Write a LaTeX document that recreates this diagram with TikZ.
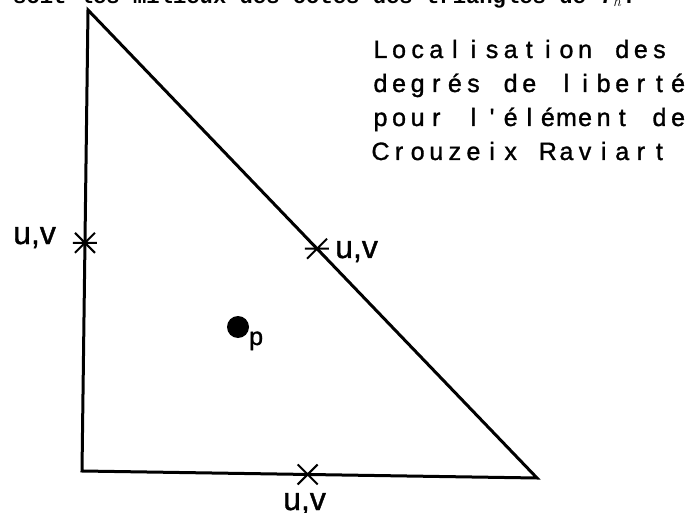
\documentclass[tikz,border=0pt]{standalone}
\usepackage{fontspec}
\usetikzlibrary{calc}
\newfontfamily\plotfont[FakeBold=1.2]{Liberation Sans}
\newfontfamily\pagemono{Liberation Mono}
\ExplSyntaxOn
\NewDocumentCommand\monocells{m}{\tl_map_inline:nn{#1}{\makebox[18.6pt]{##1}}}
\ExplSyntaxOff
\tikzset{
  x=1pt, y=-1pt,
  edge/.style={line width=3pt, line join=miter},
  lbl/.style={inner sep=0pt, anchor=base west, font=\plotfont\fontsize{32}{32}\selectfont},
  txt/.style={inner sep=0pt, anchor=base west, font=\plotfont\fontsize{25}{25}\selectfont},
  dof/.pic={\draw[line width=2pt] (-10,-10) -- (10,10) (-10,10) -- (10,-10) (-12,0) -- (12,0);}
}
\begin{document}
\begin{tikzpicture}
\useasboundingbox (0,0) rectangle (696,513);
\begin{scope}
\clip (0,0) rectangle (696,513);
\node[inner sep=0pt, anchor=base west, font=\pagemono\bfseries\fontsize{22.2}{22.2}\selectfont] (head) at (13,3.5) {soit les milieux des côtés des triangles de \textit{T}$_h$.};
\end{scope}
% triangle
\coordinate (A) at (88,10);
\coordinate (B) at (82,471);
\coordinate (C) at (537,478);
\draw[edge] (A) -- (B) -- (C) -- cycle;
% degrees of freedom
\coordinate (mAB) at ($(A)!0.505!(B)$);
\coordinate (mAC) at ($(A)!0.51!(C)$);
\coordinate (mBC) at ($(B)!0.496!(C)$);
\pic at (mAB) {dof};
\pic at (mAC) {dof};
\pic at (mBC) {dof};
\node[lbl] (l1) at (13,244) {u,v};
\node[lbl] (l2) at (335,258) {u,v};
\node[lbl] (l3) at (283,510) {u,v};
% pressure
\fill (238,327) circle (11);
\node[inner sep=0pt, anchor=base west, font=\plotfont\fontsize{25}{25}\selectfont] (p) at (249,345) {p};
% caption
\node[txt] (t1) at (371,58) {\monocells{Localisation~des}};
\node[txt] (t2) at (371,92) {\monocells{degrés~de~liberté}};
\node[txt] (t3) at (371,126) {\monocells{pour~l'élément~de}};
\node[txt] (t4) at (371,160) {\monocells{Crouzeix~Raviart}};
\end{tikzpicture}
\end{document}
